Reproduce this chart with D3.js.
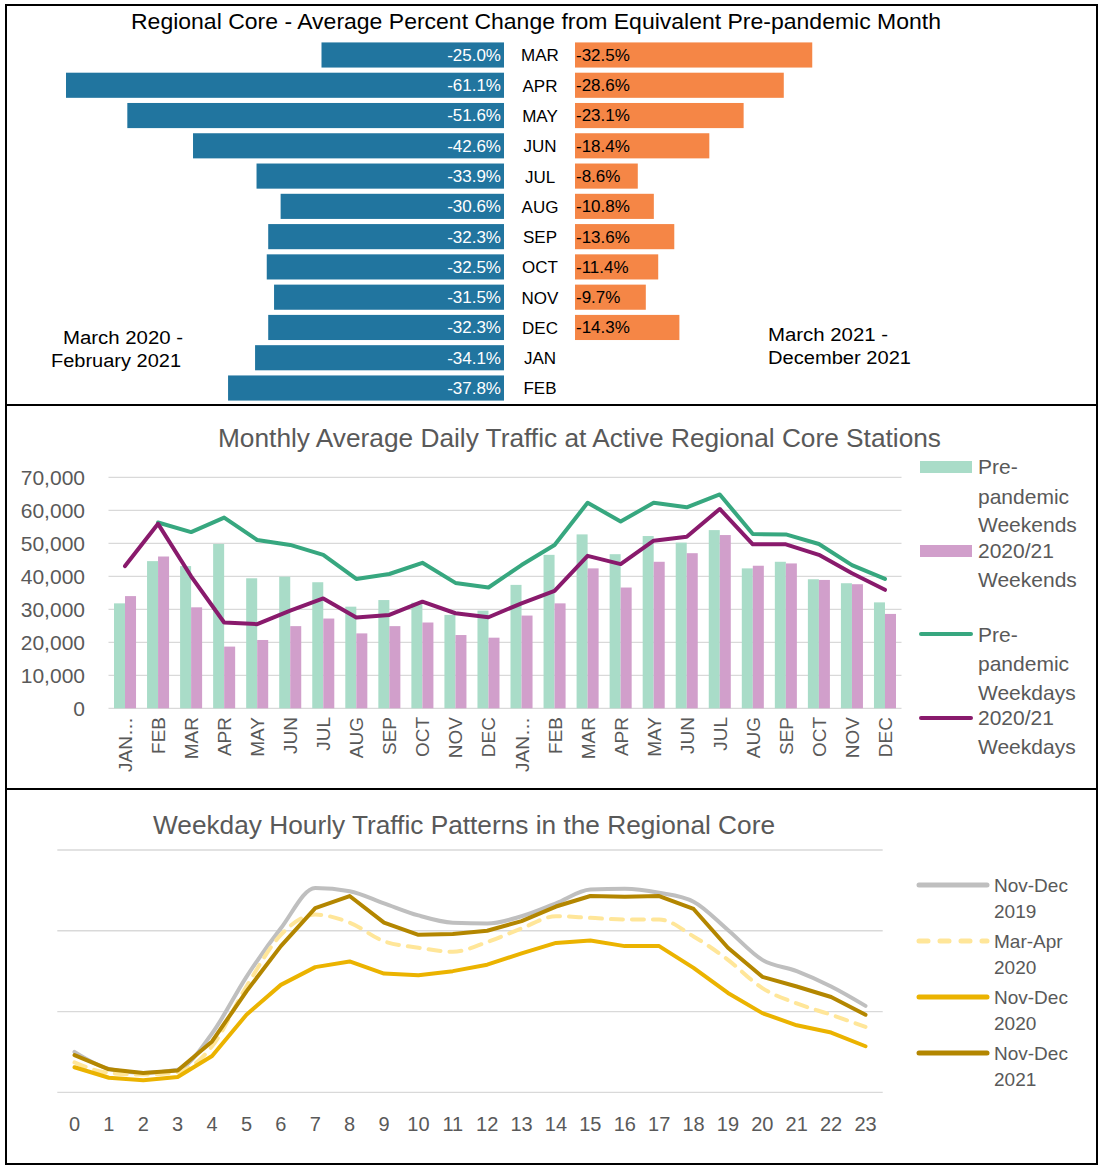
<!DOCTYPE html>
<html><head><meta charset="utf-8">
<script src="https://cdn.jsdelivr.net/npm/d3@7"></script>
<style>
body{margin:0;background:#fff;}
svg{display:block;font-family:"Liberation Sans",Arial,sans-serif;}
</style></head>
<body>
<svg id="c" width="1101" height="1166"></svg>
<script>
// ---------- Panel 1 data ----------
const months1 = ["MAR","APR","MAY","JUN","JUL","AUG","SEP","OCT","NOV","DEC","JAN","FEB"];
const change2020 = [-25.0,-61.1,-51.6,-42.6,-33.9,-30.6,-32.3,-32.5,-31.5,-32.3,-34.1,-37.8];
const change2021 = [-32.5,-28.6,-23.1,-18.4,-8.6,-10.8,-13.6,-11.4,-9.7,-14.3,null,null];

// ---------- Panel 2 data ----------
const months2 = ["JAN…","FEB","MAR","APR","MAY","JUN","JUL","AUG","SEP","OCT","NOV","DEC",
                 "JAN…","FEB","MAR","APR","MAY","JUN","JUL","AUG","SEP","OCT","NOV","DEC"];
const preWeekends = [31800,44600,43100,49800,39400,39900,38200,30800,32800,32000,28300,29600,
                     37400,46500,52700,46700,52200,50200,54000,42400,44400,39100,37900,32100];
const covWeekends = [34000,46000,30600,18700,20700,24900,27200,22700,24900,26000,22200,21400,
                     28100,31800,42400,36600,44400,47000,52500,43200,43900,38900,37600,28600];
const preWeekdays = [null,56300,53400,57800,51000,49500,46500,39200,40700,44100,38000,36600,
                     43400,49500,62300,56600,62300,60900,64800,52800,52700,49800,43400,39200];
const covWeekdays = [43100,55900,40000,26000,25500,29600,33300,27500,28300,32300,28800,27600,
                     31800,35600,46200,43700,50800,52000,60400,49700,49700,46500,40900,35900];
const yTicks2 = [0,10000,20000,30000,40000,50000,60000,70000];

// ---------- Panel 3 data ----------
const hours = d3.range(0,24).map(String);
const nd2019 = [5.0,2.9,2.4,2.8,7.3,14.3,20.3,25.3,24.9,23.4,21.9,21.0,20.9,21.8,23.4,25.1,25.2,24.7,23.6,20.1,16.4,15.0,13.1,10.7];
const ma2020 = [3.7,2.4,2.2,2.5,5.7,13.1,19.5,22.0,21.0,18.7,17.9,17.4,18.6,20.3,21.8,21.6,21.4,21.4,19.3,16.4,12.9,11.0,9.6,8.1];
const nd2020 = [3.1,1.8,1.5,1.9,4.5,9.6,13.3,15.5,16.2,14.7,14.5,15.0,15.8,17.2,18.5,18.8,18.1,18.1,15.4,12.3,9.8,8.3,7.4,5.7];
const nd2021 = [4.6,2.85,2.4,2.7,6.3,12.5,18.1,22.8,24.3,21.0,19.5,19.6,20.0,21.2,23.0,24.3,24.2,24.3,22.7,17.9,14.3,13.1,11.8,9.6];
const yGrid3 = [0,10,20,30];

const svg = d3.select("#c");
const GRAY = "#595959";

// ---------- borders ----------
svg.append("rect").attr("x",6).attr("y",5).attr("width",1091).attr("height",1159)
  .attr("fill","none").attr("stroke","#000").attr("stroke-width",2);
[405,789].forEach(y=>svg.append("line").attr("x1",6).attr("x2",1097).attr("y1",y).attr("y2",y)
  .attr("stroke","#000").attr("stroke-width",2));

// ================= Panel 1 =================
{
  const g = svg.append("g");
  g.append("text").attr("x",536).attr("y",29).attr("text-anchor","middle")
    .attr("font-size",22).attr("fill","#000").attr("textLength",810).attr("lengthAdjust","spacingAndGlyphs")
    .text("Regional Core - Average Percent Change from Equivalent Pre-pandemic Month");
  const y = d3.scaleBand().domain(months1).range([40,403]).paddingInner(0.17).paddingOuter(0.08);
  const xl = d3.scaleLinear().domain([-60,0]).range([66,504]).clamp(true);
  const xr = d3.scaleLinear().domain([0,60]).range([575,1013]);
  months1.forEach((m,i)=>{
    const v = change2020[i];
    g.append("rect").attr("x",xl(v)).attr("y",y(m)).attr("width",xl(0)-xl(v))
      .attr("height",y.bandwidth()).attr("fill","#21759f");
    g.append("text").attr("x",xl(0)-3).attr("y",y(m)+y.bandwidth()/2).attr("dy","0.35em")
      .attr("text-anchor","end").attr("font-size",17).attr("fill","#fff")
      .text(v.toFixed(1)+"%");
    g.append("text").attr("x",540).attr("y",y(m)+y.bandwidth()/2).attr("dy","0.38em")
      .attr("text-anchor","middle").attr("font-size",17).attr("fill","#000").text(m);
    const r = change2021[i];
    if(r!==null){
      g.append("rect").attr("x",xr(0)).attr("y",y(m)).attr("width",xr(-r)-xr(0))
        .attr("height",y.bandwidth()).attr("fill","#f58646");
      g.append("text").attr("x",xr(0)+1).attr("y",y(m)+y.bandwidth()/2).attr("dy","0.35em")
        .attr("text-anchor","start").attr("font-size",17).attr("fill","#000")
        .text(r.toFixed(1)+"%");
    }
  });
  const ann = [["March 2020 -",63,344,120],["February 2021",51,367,130],
               ["March 2021 -",768,341,120],["December 2021",768,364,143]];
  g.selectAll("text.ann").data(ann).join("text").attr("class","ann")
    .attr("x",d=>d[1]).attr("y",d=>d[2]).attr("font-size",18).attr("fill","#000")
    .attr("textLength",d=>d[3]).attr("lengthAdjust","spacingAndGlyphs").text(d=>d[0]);
}

// ================= Panel 2 =================
{
  const g = svg.append("g");
  g.append("text").attr("x",579.5).attr("y",447).attr("text-anchor","middle")
    .attr("font-size",25).attr("fill",GRAY).attr("textLength",723).attr("lengthAdjust","spacingAndGlyphs")
    .text("Monthly Average Daily Traffic at Active Regional Core Stations");
  const idx = d3.range(months2.length);
  const x = d3.scaleBand().domain(idx).range([108.5,901.5]);
  const y = d3.scaleLinear().domain([0,70000]).range([708.3,477.3]);
  const sub = d3.scaleBand().domain([0,1]).range([0,x.bandwidth()]).paddingOuter(0.5).paddingInner(0);
  // grid
  g.append("g").selectAll("line").data(yTicks2).join("line")
    .attr("x1",108.5).attr("x2",901.5).attr("y1",d=>y(d)).attr("y2",d=>y(d))
    .attr("stroke","#d9d9d9").attr("stroke-width",1.3);
  // y labels
  g.append("g").selectAll("text").data(yTicks2).join("text")
    .attr("x",85).attr("y",d=>y(d)).attr("dy","0.35em").attr("text-anchor","end")
    .attr("font-size",21).attr("fill",GRAY).text(d=>d3.format(",")(d));
  // bars
  g.append("g").selectAll("rect").data(idx).join("rect")
    .attr("x",i=>x(i)+sub(0)).attr("width",sub.bandwidth())
    .attr("y",i=>y(preWeekends[i])).attr("height",i=>y(0)-y(preWeekends[i]))
    .attr("fill","#a9dcc8");
  g.append("g").selectAll("rect").data(idx).join("rect")
    .attr("x",i=>x(i)+sub(1)).attr("width",sub.bandwidth())
    .attr("y",i=>y(covWeekends[i])).attr("height",i=>y(0)-y(covWeekends[i]))
    .attr("fill","#d19fcb");
  // lines
  const line = d3.line().defined(d=>d[1]!==null).x(d=>x(d[0])+x.bandwidth()/2).y(d=>y(d[1]));
  g.append("path").datum(idx.map(i=>[i,preWeekdays[i]])).attr("d",line)
    .attr("fill","none").attr("stroke","#37a77f").attr("stroke-width",4).attr("stroke-linejoin","round").attr("stroke-linecap","round");
  g.append("path").datum(idx.map(i=>[i,covWeekdays[i]])).attr("d",line)
    .attr("fill","none").attr("stroke","#891a6c").attr("stroke-width",4).attr("stroke-linejoin","round").attr("stroke-linecap","round");
  // x labels
  g.append("g").selectAll("text").data(idx).join("text")
    .attr("transform",i=>`translate(${x(i)+x.bandwidth()/2+7},717) rotate(-90)`)
    .attr("text-anchor","end").attr("font-size",19).attr("fill",GRAY)
    .text(i=>months2[i]);
  // legend
  const lg = g.append("g");
  lg.append("rect").attr("x",920).attr("y",461).attr("width",52).attr("height",12).attr("fill","#a9dcc8");
  lg.append("rect").attr("x",920).attr("y",545).attr("width",52).attr("height",12).attr("fill","#d19fcb");
  lg.append("line").attr("x1",921).attr("x2",971).attr("y1",634).attr("y2",634).attr("stroke","#37a77f").attr("stroke-width",4).attr("stroke-linecap","round");
  lg.append("line").attr("x1",921).attr("x2",971).attr("y1",718).attr("y2",718).attr("stroke","#891a6c").attr("stroke-width",4).attr("stroke-linecap","round");
  const ltxt = [["Pre-",467],["pandemic",497],["Weekends",525],["2020/21",551],["Weekends",580],
                ["Pre-",635],["pandemic",664],["Weekdays",693],["2020/21",718],["Weekdays",747]];
  lg.selectAll("text").data(ltxt).join("text").attr("x",978).attr("y",d=>d[1]).attr("dy","0.35em")
    .attr("font-size",21).attr("fill",GRAY).text(d=>d[0]);
}

// ================= Panel 3 =================
{
  const g = svg.append("g");
  g.append("text").attr("x",464).attr("y",834).attr("text-anchor","middle")
    .attr("font-size",25).attr("fill",GRAY).attr("textLength",622).attr("lengthAdjust","spacingAndGlyphs")
    .text("Weekday Hourly Traffic Patterns in the Regional Core");
  const x = d3.scaleBand().domain(hours).range([57.3,882.7]);
  const y = d3.scaleLinear().domain([0,30]).range([1092.3,850]);
  g.append("g").selectAll("line").data(yGrid3).join("line")
    .attr("x1",57.3).attr("x2",882.7).attr("y1",d=>y(d)).attr("y2",d=>y(d))
    .attr("stroke","#d9d9d9").attr("stroke-width",1.3);
  g.append("g").selectAll("text").data(hours).join("text")
    .attr("x",d=>x(d)+x.bandwidth()/2).attr("y",1124).attr("dy","0.35em").attr("text-anchor","middle")
    .attr("font-size",20).attr("fill",GRAY).text(d=>d);
  const mk = (curve)=>d3.line().curve(curve).x((d,i)=>x(hours[i])+x.bandwidth()/2).y(d=>y(d));
  const series = [
    {data:nd2019,color:"#bfbfbf",dash:null,curve:d3.curveMonotoneX},
    {data:ma2020,color:"#ffe699",dash:"12,9",curve:d3.curveMonotoneX},
    {data:nd2020,color:"#ebb300",dash:null,curve:d3.curveLinear},
    {data:nd2021,color:"#b38600",dash:null,curve:d3.curveLinear}
  ];
  series.forEach(s=>{
    g.append("path").datum(s.data).attr("d",mk(s.curve)).attr("fill","none")
      .attr("stroke",s.color).attr("stroke-width",4).attr("stroke-linejoin","round")
      .attr("stroke-linecap","round").attr("stroke-dasharray",s.dash);
  });
  // legend
  const lab = [["Nov-Dec","2019"],["Mar-Apr","2020"],["Nov-Dec","2020"],["Nov-Dec","2021"]];
  series.forEach((s,i)=>{
    const yy = 885 + i*56;
    g.append("line").attr("x1",919).attr("x2",987).attr("y1",yy).attr("y2",yy)
      .attr("stroke",s.color).attr("stroke-width",5).attr("stroke-linecap","round")
      .attr("stroke-dasharray",s.dash?"9,12":null);
    g.append("text").attr("x",994).attr("y",yy).attr("dy","0.35em").attr("font-size",19)
      .attr("fill",GRAY).text(lab[i][0]);
    g.append("text").attr("x",994).attr("y",yy+26).attr("dy","0.35em").attr("font-size",19)
      .attr("fill",GRAY).text(lab[i][1]);
  });
}
</script>
</body></html>
